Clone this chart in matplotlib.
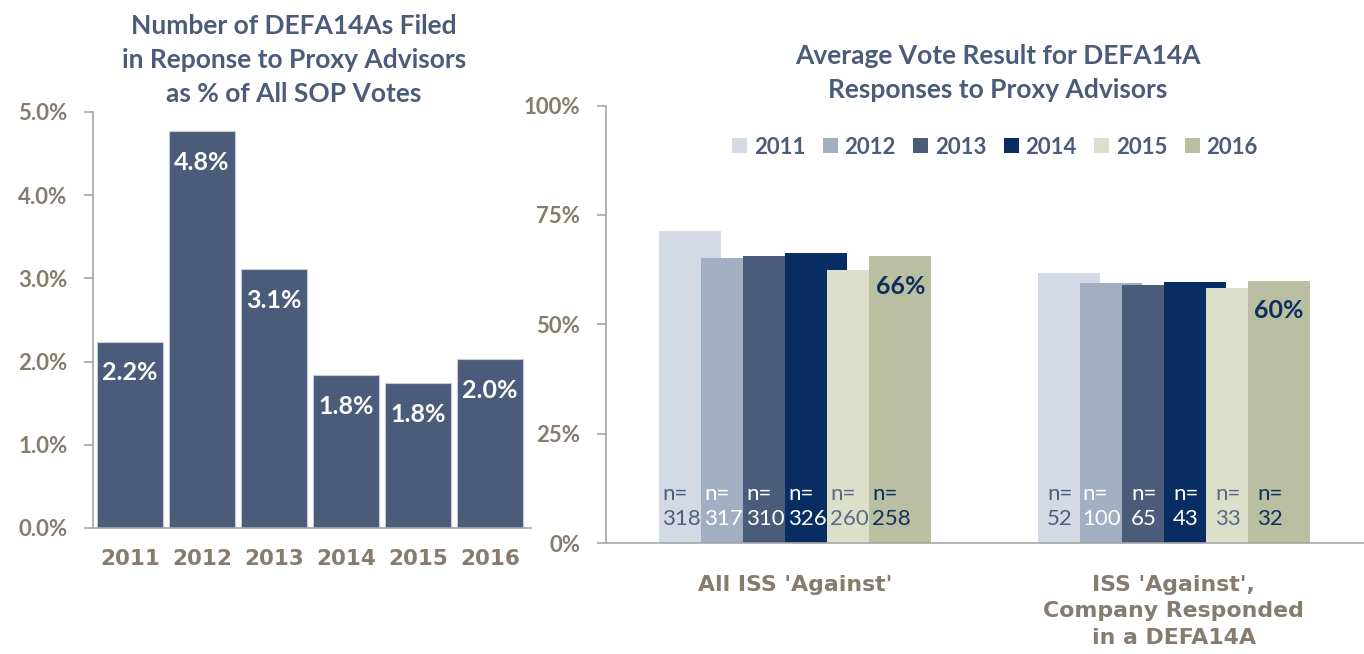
# Recreates the two-panel DEFA14A chart

# Imports
import matplotlib
matplotlib.use('Agg')
import matplotlib.pyplot as plt
from matplotlib.patches import Patch
import numpy as np

# Data
YEARS = ['2011', '2012', '2013', '2014', '2015', '2016']
FILED_PCT = [2.24, 4.77, 3.11, 1.84, 1.74, 2.03]
FILED_LABELS = ['2.2%', '4.8%', '3.1%', '1.8%', '1.8%', '2.0%']

GROUPS = ["All ISS 'Against'", "ISS 'Against',\nCompany Responded\nin a DEFA14A"]
VOTE_ALL = [71.4, 65.2, 65.5, 66.2, 62.4, 65.5]
VOTE_RESP = [61.8, 59.5, 59.0, 59.6, 58.3, 60.0]
N_ALL = [318, 317, 310, 326, 260, 258]
N_RESP = [52, 100, 65, 43, 33, 32]
TOP_LABELS = ['66%', '60%']

# Styles
YEAR_COLORS = ['#D3D9E5', '#A2AEC2', '#4A5C7A', '#072D63', '#DCDFCA', '#BBBFA2']
N_COLORS = ['#4E5F7C', 'white', 'white', 'white', '#5B6A84', '#0F2D5F']
BAR_COLOR = '#4A5C7A'
TITLE_COLOR = '#4A5C7A'
TICK_COLOR = '#857C6E'
SPINE_COLOR = '#A6A6A6'
NAVY = '#0F2D5F'
WIDE_FONT = ['DejaVu Sans']  # letter-spaced category labels

plt.rcParams['font.family'] = ['Lato', 'DejaVu Sans']

W, H = 1364, 654
fig = plt.figure(figsize=(W / 100, H / 100), dpi=100)


def style_axes(ax):
    for side in ['top', 'right']:
        ax.spines[side].set_visible(False)
    for side in ['left', 'bottom']:
        ax.spines[side].set_color(SPINE_COLOR)
        ax.spines[side].set_linewidth(1.2)
    ax.tick_params(axis='y', length=6.5, width=1.2, color=SPINE_COLOR, pad=12)
    ax.tick_params(axis='x', length=0)


# ---- Left panel ----
ax1 = fig.add_axes([93 / W, 1 - 528 / H, 438 / W, (528 - 112) / H])
x1 = np.arange(len(YEARS))
bars1 = ax1.bar(x1, FILED_PCT, width=0.915, color=BAR_COLOR,
                edgecolor='#C5CBD5', linewidth=0.8)
ax1.set_xlim(-0.51, 5.57)
ax1.set_ylim(0, 5)
ax1.set_yticks(np.arange(0, 6))
ax1.set_yticklabels(['%.1f%%' % v for v in np.arange(0, 6)],
                    fontsize=16, fontweight='bold', color=TICK_COLOR)
ax1.set_xticks(x1)
ax1.set_xticklabels(YEARS, fontsize=15.5, fontweight='bold', color=TICK_COLOR,
                    family=WIDE_FONT)
style_axes(ax1)
ax1.tick_params(axis='x', pad=15)
for xi, val, lab in zip(x1, FILED_PCT, FILED_LABELS):
    ax1.annotate(lab, (xi, val), xytext=(0, -22.5), textcoords='offset points',
                 ha='center', va='center', color='white', fontsize=18,
                 fontweight='bold')

fig.text(294 / W, 1 - 60 / H,
         'Number of DEFA14As Filed\nin Reponse to Proxy Advisors\nas % of All SOP Votes',
         ha='center', va='center', fontsize=19, fontweight='bold',
         color=TITLE_COLOR, linespacing=1.48)

# ---- Right panel ----
ax2 = fig.add_axes([606 / W, 1 - 543 / H, 757 / W, (543 - 105.5) / H])
xg = np.arange(len(GROUPS))
step = 0.111
bw = 0.164
series = list(zip(VOTE_ALL, VOTE_RESP))
ns = list(zip(N_ALL, N_RESP))
for i, year in enumerate(YEARS):
    xs = xg + (i - 2.5) * step
    ax2.bar(xs, series[i], width=bw, color=YEAR_COLORS[i], label=year,
            edgecolor='none')
    for gx, n in zip(xs, ns[i]):
        ax2.annotate('n=\n%d' % n, (gx - bw / 2, 0), xytext=(16, 26.5),
                     textcoords='offset points', ha='center', va='center',
                     multialignment='left', fontsize=16, color=N_COLORS[i],
                     linespacing=1.3)

# value labels on the 2016 bars
x16 = xg + 2.5 * step
for gx, val, lab in zip(x16, series[5], TOP_LABELS):
    ax2.annotate(lab, (gx, val), xytext=(0, -21.5), textcoords='offset points',
                 ha='center', va='center', color=NAVY, fontsize=18,
                 fontweight='bold')

ax2.set_xlim(-0.5, 1.5)
ax2.set_ylim(0, 100)
ax2.set_yticks([0, 25, 50, 75, 100])
ax2.set_yticklabels(['0%', '25%', '50%', '75%', '100%'], fontsize=16,
                    fontweight='bold', color=TICK_COLOR)
ax2.set_xticks(xg)
ax2.set_xticklabels(GROUPS, fontsize=15.8, fontweight='bold', color=TICK_COLOR,
                    linespacing=1.4, family=WIDE_FONT)
style_axes(ax2)
ax2.tick_params(axis='x', pad=23)

fig.text(998 / W, 1 - 73.5 / H,
         'Average Vote Result for DEFA14A\nResponses to Proxy Advisors',
         ha='center', va='center', fontsize=19, fontweight='bold',
         color=TITLE_COLOR, linespacing=1.5)

# Legend
handles = [Patch(facecolor=c, edgecolor='none') for c in YEAR_COLORS]
leg = fig.legend(handles, YEARS, loc='center', ncol=6, frameon=False,
                 bbox_to_anchor=(995 / W, 1 - 147 / H),
                 handlelength=0.66, handleheight=0.66, handletextpad=0.3,
                 columnspacing=0.8, prop={'size': 16, 'weight': 'bold'})
for t in leg.get_texts():
    t.set_color(TITLE_COLOR)

plt.savefig('out.png', dpi=100)
